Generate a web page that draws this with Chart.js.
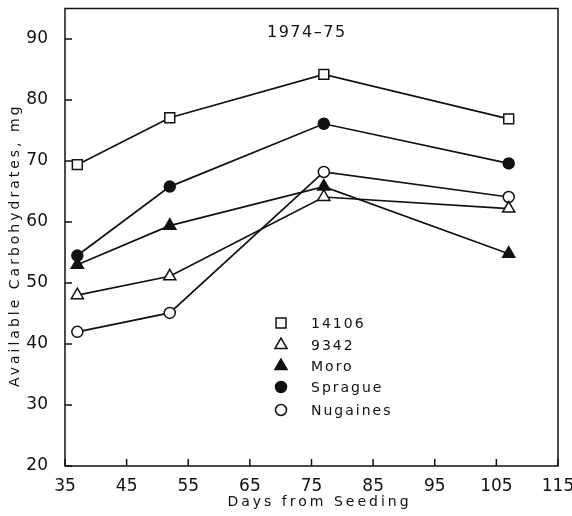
<!DOCTYPE html>
<html>
<head>
<meta charset="utf-8">
<script src="https://cdn.jsdelivr.net/npm/chart.js@4.4.1/dist/chart.umd.min.js"></script>
<style>
  html, body { margin: 0; padding: 0; background: #fff; }
  #wrap { width: 572px; height: 516px; }
</style>
</head>
<body>
<div id="wrap"><canvas id="chart" width="572" height="516"></canvas></div>
<script>
// data
const days = [37, 52, 77, 107]
const s14106 = [69.4, 77.1, 84.2, 76.9]
const s9342 = [48.0, 51.1, 64.1, 62.2]
const moro = [53.0, 59.4, 65.8, 54.8]
const sprague = [54.5, 65.8, 76.1, 69.6]
const nugaines = [42.0, 45.1, 68.2, 64.1]

const xTicks = [35, 45, 55, 65, 75, 85, 95, 105, 115]
const yTicks = [20, 30, 40, 50, 60, 70, 80, 90]

const seriesNames = ['14106', '9342', 'Moro', 'Sprague', 'Nugaines']
const seriesValues = [s14106, s9342, moro, sprague, nugaines]
const seriesStyles = [
  { pointStyle: 'rect', fill: '#fff', r: 7 },
  { pointStyle: 'triangle', fill: '#fff', r: 7 },
  { pointStyle: 'triangle', fill: '#111', r: 7 },
  { pointStyle: 'circle', fill: '#111', r: 5.5 },
  { pointStyle: 'circle', fill: '#fff', r: 5.5 }
]

const FONT = '"DejaVu Sans", sans-serif'
const INK = '#111'

const datasets = seriesNames.map((name, i) => ({
  label: name,
  data: days.map((d, j) => ({ x: d, y: seriesValues[i][j] })),
  borderColor: INK,
  borderWidth: 1.7,
  pointStyle: seriesStyles[i].pointStyle,
  pointRadius: seriesStyles[i].r,
  pointBackgroundColor: seriesStyles[i].fill,
  pointBorderColor: INK,
  pointBorderWidth: 1.5,
  tension: 0
}))

// frame, inward ticks, title, legend, axis titles
const decor = {
  id: 'decor',
  afterDraw(chart) {
    const ctx = chart.ctx
    const a = chart.chartArea
    const xs = chart.scales.x
    const ys = chart.scales.y
    ctx.save()
    ctx.strokeStyle = INK
    ctx.lineWidth = 1.5
    ctx.strokeRect(a.left, a.top, a.right - a.left, a.bottom - a.top)

    ctx.beginPath()
    xTicks.forEach(t => {
      const px = xs.getPixelForValue(t)
      ctx.moveTo(px, a.bottom)
      ctx.lineTo(px, a.bottom - 7)
    })
    yTicks.forEach(t => {
      const py = ys.getPixelForValue(t)
      ctx.moveTo(a.left, py)
      ctx.lineTo(a.left + 7, py)
    })
    ctx.stroke()

    ctx.fillStyle = INK
    ctx.textBaseline = 'middle'
    ctx.letterSpacing = '1.5px'
    ctx.font = '16px ' + FONT
    ctx.textAlign = 'left'
    ctx.fillText('1974\u201375', a.left + 202, a.top + 24)

    // legend
    ctx.letterSpacing = '2px'
    ctx.font = '14px ' + FONT
    const lx = a.left + 216
    const ly = [323, 345, 366, 387, 410]
    seriesNames.forEach((name, i) => {
      const st = seriesStyles[i]
      ctx.fillStyle = st.fill
      ctx.strokeStyle = INK
      ctx.lineWidth = 1.5
      Chart.helpers.drawPoint(ctx, { pointStyle: st.pointStyle, radius: st.r, rotation: 0, borderWidth: 1.5 }, lx, ly[i])
      ctx.fillStyle = INK
      ctx.fillText(name, lx + 30, ly[i] + 1)
    })

    // axis titles
    ctx.letterSpacing = '3px'
    ctx.font = '14px ' + FONT
    ctx.textAlign = 'center'
    ctx.fillText('Days from Seeding', (a.left + a.right) / 2 + 8, 502)
    ctx.translate(15, (a.top + a.bottom) / 2 + 8)
    ctx.rotate(-Math.PI / 2)
    ctx.fillText('Available Carbohydrates, mg', 0, 0)
    ctx.restore()
  }
}

new Chart(document.getElementById('chart'), {
  type: 'line',
  data: { datasets },
  options: {
    responsive: false,
    animation: false,
    layout: { padding: { left: 0, right: 14, top: 6, bottom: 0 } },
    plugins: { legend: { display: false }, tooltip: { enabled: false } },
    scales: {
      x: {
        type: 'linear',
        min: 35, max: 115,
        afterBuildTicks: s => { s.ticks = xTicks.map(v => ({ value: v })) },
        afterFit: s => { s.height = 50; s.paddingLeft = 0; s.paddingRight = 0 },
        grid: { display: false },
        border: { display: false },
        ticks: { color: INK, font: { family: FONT, size: 17 }, padding: 2, maxRotation: 0 }
      },
      y: {
        min: 20, max: 95,
        afterBuildTicks: s => { s.ticks = yTicks.map(v => ({ value: v })) },
        afterFit: s => { s.width = 65; s.paddingTop = 0; s.paddingBottom = 0 },
        grid: { display: false },
        border: { display: false },
        ticks: { color: INK, font: { family: FONT, size: 17 }, padding: 9 }
      }
    }
  },
  plugins: [decor]
})
</script>
</body>
</html>
